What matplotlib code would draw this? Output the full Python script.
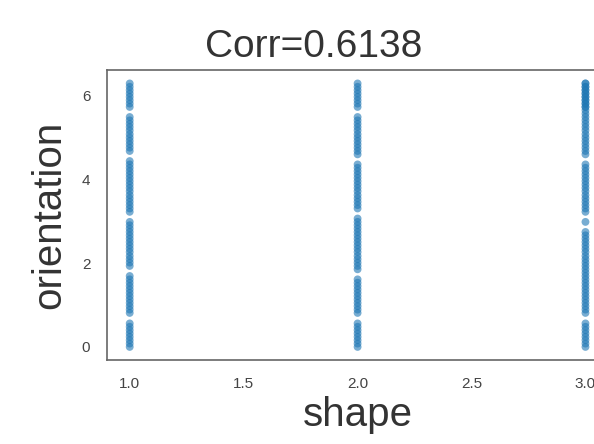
import matplotlib
matplotlib.use("Agg")
import matplotlib.pyplot as plt

plt.rcParams['font.family'] = ['Liberation Sans', 'DejaVu Sans']

# orientation samples (radians) for each shape id
orient_shape1 = [0.00, 0.08, 0.16, 0.24, 0.32, 0.40, 0.48, 0.56, 0.81, 0.89,
                 0.97, 1.05, 1.13, 1.21, 1.29, 1.37, 1.45, 1.53, 1.61, 1.69,
                 1.93, 2.01, 2.09, 2.17, 2.26, 2.34, 2.42, 2.50, 2.58, 2.66,
                 2.74, 2.82, 2.90, 2.98, 3.22, 3.30, 3.38, 3.46, 3.54, 3.62,
                 3.71, 3.79, 3.87, 3.95, 4.03, 4.11, 4.19, 4.27, 4.35, 4.43,
                 4.67, 4.75, 4.83, 4.91, 4.99, 5.07, 5.16, 5.24, 5.32, 5.40,
                 5.48, 5.72, 5.80, 5.88, 5.96, 6.04, 6.12, 6.20, 6.28]
orient_shape2 = [0.00, 0.08, 0.16, 0.24, 0.32, 0.40, 0.48, 0.56, 0.81, 0.89,
                 0.97, 1.05, 1.13, 1.21, 1.29, 1.37, 1.45, 1.53, 1.61, 1.85,
                 1.93, 2.01, 2.09, 2.17, 2.26, 2.34, 2.42, 2.50, 2.58, 2.66,
                 2.74, 2.82, 2.90, 2.98, 3.06, 3.30, 3.38, 3.46, 3.54, 3.62,
                 3.71, 3.79, 3.87, 3.95, 4.03, 4.11, 4.19, 4.27, 4.35, 4.59,
                 4.67, 4.75, 4.83, 4.91, 4.99, 5.07, 5.16, 5.24, 5.32, 5.40,
                 5.48, 5.72, 5.80, 5.88, 5.96, 6.04, 6.12, 6.20, 6.28]
orient_shape3 = [0.00, 0.08, 0.16, 0.24, 0.32, 0.40, 0.48, 0.56, 0.81, 0.89,
                 0.97, 1.05, 1.13, 1.21, 1.29, 1.37, 1.45, 1.53, 1.61, 1.69,
                 1.77, 1.85, 1.93, 2.01, 2.09, 2.17, 2.26, 2.34, 2.42, 2.50,
                 2.58, 2.66, 2.74, 2.98, 3.22, 3.30, 3.38, 3.46, 3.54, 3.62,
                 3.71, 3.79, 3.87, 3.95, 4.03, 4.11, 4.19, 4.27, 4.35, 4.59,
                 4.67, 4.75, 4.83, 4.91, 4.99, 5.07, 5.16, 5.24, 5.32, 5.40,
                 5.48, 5.56, 5.64, 5.72, 5.80, 5.88, 5.96, 6.04, 6.12, 6.20,
                 6.28, 5.72, 5.80, 5.88, 5.96, 6.04, 6.12, 6.20, 6.28]
shape_ids = [1, 2, 3]
corr_value = 0.6138

xticks = [1.0, 1.5, 2.0, 2.5, 3.0]
yticks = [0, 2, 4, 6]

xs, ys = [], []
for sid, vals in zip(shape_ids, [orient_shape1, orient_shape2, orient_shape3]):
    xs.extend([sid] * len(vals))
    ys.extend(vals)

fig = plt.figure(figsize=(5.94, 4.44), dpi=100)
ax = fig.add_axes([0.180, 0.189, 0.844, 0.653])
ax.scatter(xs, ys, s=32, color='#1f77b4', alpha=0.6, edgecolors='none')

ax.set_xticks(xticks)
ax.set_xticklabels([f"{t:.1f}" for t in xticks])
ax.set_yticks(yticks)
ax.tick_params(axis='both', length=0, labelsize=11, colors='#444444', pad=12)
ax.set_xlim(0.9, 3.1)
ax.set_ylim(-0.314, 6.597)
for sp in ax.spines.values():
    sp.set_color('#666666')
    sp.set_linewidth(1.2)

ax.set_xlabel('shape', fontsize=29, color='#333333', labelpad=4)
ax.set_ylabel('orientation', fontsize=29, color='#333333', labelpad=10)
fig.text(314 / 594, 1 - 57 / 444, f'Corr={corr_value:.4f}', fontsize=28,
         color='#333333', ha='center', va='baseline')

fig.savefig('out.png', dpi=100)
